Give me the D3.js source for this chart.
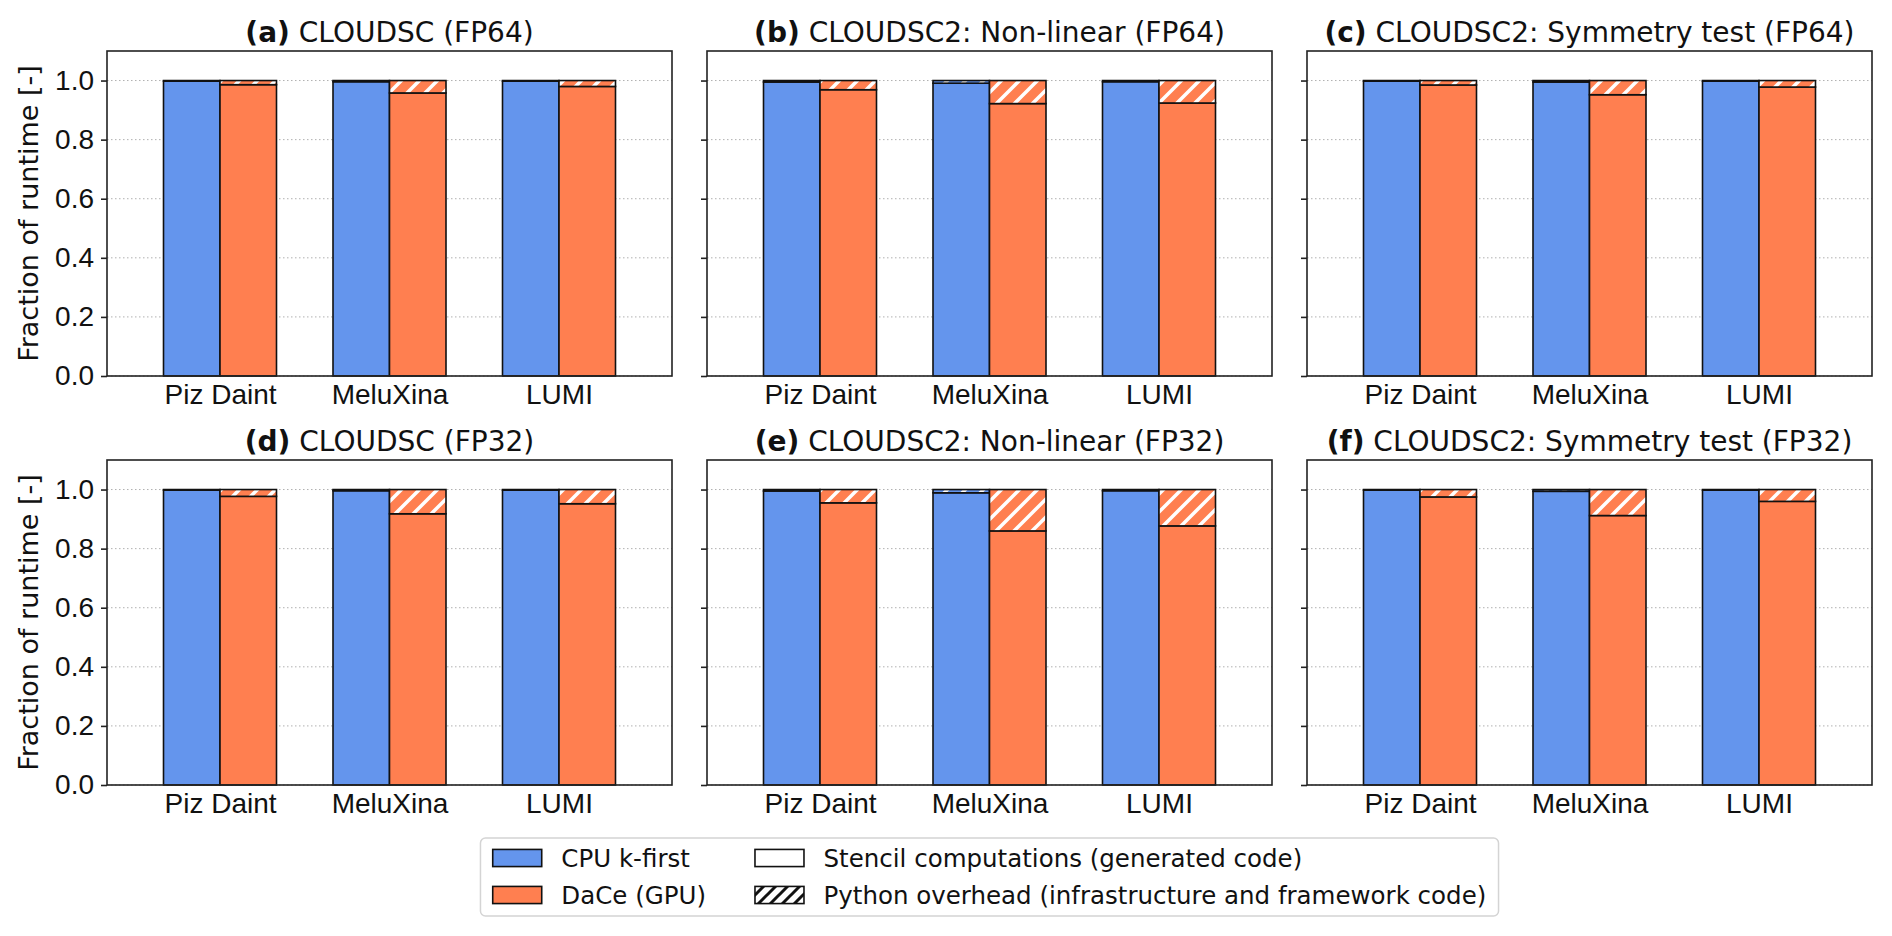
<!DOCTYPE html>
<html>
<head>
<meta charset="utf-8">
<script src="https://cdn.jsdelivr.net/npm/d3@7"></script>
<style>
  body { margin: 0; background: #fff; }
  svg { font-family: 'DejaVu Sans', sans-serif; }
  .grid line { stroke: #b0b0b0; stroke-width: 1; stroke-dasharray: 1.5, 2.5; }
  .bar { stroke: #111; stroke-width: 1.6; }
  .spine { fill: none; stroke: #222; stroke-width: 1.6; }
  .tick line { stroke: #222; stroke-width: 1.6; }
  .tick text { font-size: 28px; fill: #111; }
</style>
</head>
<body>
<svg id="chart" width="1892" height="936"></svg>
<script>
const systems = ['Piz Daint', 'MeluXina', 'LUMI'];
const panelLetters = ['(a)', '(b)', '(c)', '(d)', '(e)', '(f)'];
const panelNames = [
  'CLOUDSC (FP64)',
  'CLOUDSC2: Non-linear (FP64)',
  'CLOUDSC2: Symmetry test (FP64)',
  'CLOUDSC (FP32)',
  'CLOUDSC2: Non-linear (FP32)',
  'CLOUDSC2: Symmetry test (FP32)',
];

// fraction of runtime per panel, per system (Piz Daint, MeluXina, LUMI)
const cpuStencil = [
  [0.998, 0.996, 0.998],
  [0.995, 0.991, 0.996],
  [0.998, 0.995, 0.998],
  [0.998, 0.996, 0.998],
  [0.995, 0.989, 0.996],
  [0.998, 0.994, 0.998],
];
const cpuOverhead = [
  [0.002, 0.004, 0.002],
  [0.005, 0.009, 0.004],
  [0.002, 0.005, 0.002],
  [0.002, 0.004, 0.002],
  [0.005, 0.011, 0.004],
  [0.002, 0.006, 0.002],
];
const daceStencil = [
  [0.986, 0.958, 0.980],
  [0.969, 0.922, 0.924],
  [0.985, 0.952, 0.978],
  [0.977, 0.918, 0.952],
  [0.955, 0.860, 0.877],
  [0.975, 0.912, 0.960],
];
const daceOverhead = [
  [0.014, 0.042, 0.020],
  [0.031, 0.078, 0.076],
  [0.015, 0.048, 0.022],
  [0.023, 0.082, 0.048],
  [0.045, 0.140, 0.123],
  [0.025, 0.088, 0.040],
];

const yTicks = [0, 0.2, 0.4, 0.6, 0.8, 1.0];
const backends = ['CPU k-first', 'DaCe (GPU)'];
const backendColors = ['#6495ed', '#ff7f50'];
const partLabels = ['Stencil computations (generated code)', 'Python overhead (infrastructure and framework code)'];

const panelW = 565;
const panelH = 325;
const colLeft = [107, 707, 1307];
const rowTop = [51, 460];

const svg = d3.select('#chart');

const defs = svg.append('defs');
function hatch(id, size, bg, fg, width) {
  const p = defs.append('pattern')
    .attr('id', id)
    .attr('patternUnits', 'userSpaceOnUse')
    .attr('width', size)
    .attr('height', size)
  ;
  if (bg)
    p.append('rect').attr('width', size).attr('height', size).attr('fill', bg);
  p.append('path')
    .attr('d', `M0,${size} L${size},0 M${-size / 4},${size / 4} L${size / 4},${-size / 4} M${size * 3 / 4},${size * 5 / 4} L${size * 5 / 4},${size * 3 / 4}`)
    .attr('stroke', fg)
    .attr('stroke-width', width)
  ;
}
hatch('hatch-0', 18, backendColors[0], '#fff', 3.5);
hatch('hatch-1', 18, backendColors[1], '#fff', 3.5);
hatch('hatch-legend', 12, '#fff', '#111', 3);

const x = d3.scaleLinear().domain([-2 / 3, 8 / 3]).range([0, panelW]);
const y = d3.scaleLinear().domain([0, 1.1]).range([panelH, 0]);
const barW = 1 / 3;

panelNames.forEach((name, p) => {
  const col = p % 3;
  const row = Math.floor(p / 3);
  const g = svg.append('g')
    .attr('class', 'panel')
    .attr('transform', `translate(${colLeft[col]}, ${rowTop[row]})`)
  ;

  g.append('g')
    .attr('class', 'grid')
    .selectAll('line')
    .data(yTicks)
    .enter()
    .append('line')
    .attr('x1', 0)
    .attr('x2', panelW)
    .attr('y1', d => y(d))
    .attr('y2', d => y(d))
  ;

  const bars = [];
  systems.forEach((s, i) => {
    [[cpuStencil, cpuOverhead], [daceStencil, daceOverhead]].forEach(([st, ov], b) => {
      const x0 = b === 0 ? i - barW : i;
      bars.push({ x0, lo: 0, hi: st[p][i], fill: backendColors[b] });
      bars.push({ x0, lo: st[p][i], hi: st[p][i] + ov[p][i], fill: `url(#hatch-${b})` });
    });
  });

  g.append('g')
    .selectAll('rect')
    .data(bars)
    .enter()
    .append('rect')
    .attr('class', 'bar')
    .attr('x', d => x(d.x0))
    .attr('width', x(barW) - x(0))
    .attr('y', d => y(d.hi))
    .attr('height', d => y(d.lo) - y(d.hi))
    .attr('fill', d => d.fill)
  ;

  g.append('g')
    .call(d3.axisLeft(y)
      .tickValues(yTicks)
      .tickSize(6)
      .tickPadding(7)
      .tickFormat(col === 0 ? d3.format('.1f') : () => ''))
    .call(a => a.select('.domain').remove())
    .call(a => a.selectAll('text').attr('font-family', null).attr('font-size', null))
  ;

  g.append('g')
    .attr('transform', `translate(0, ${panelH})`)
    .call(d3.axisBottom(x)
      .tickValues([0, 1, 2])
      .tickSize(0)
      .tickPadding(8)
      .tickFormat(i => systems[i]))
    .call(a => a.select('.domain').remove())
    .call(a => a.selectAll('text').attr('font-family', null).attr('font-size', null))
  ;

  g.append('rect')
    .attr('class', 'spine')
    .attr('width', panelW)
    .attr('height', panelH)
  ;

  const title = g.append('text')
    .attr('x', panelW / 2)
    .attr('y', -9)
    .style('text-anchor', 'middle')
    .style('font-size', '28px')
    .attr('fill', '#111')
  ;
  title.append('tspan').style('font-weight', 'bold').text(panelLetters[p]);
  title.append('tspan').text(' ' + name);

  if (col === 0) {
    g.append('text')
      .attr('transform', `translate(-69, ${panelH / 2}) rotate(-90)`)
      .style('text-anchor', 'middle')
      .style('font-size', '27px')
      .attr('fill', '#111')
      .text('Fraction of runtime [-]')
    ;
  }
});

// legend, centred under the axes area
const fs = 24.5;
const legend = svg.append('g').attr('class', 'legend');
const legendBox = legend.append('rect')
  .attr('rx', 5)
  .attr('ry', 5)
  .attr('fill', '#fff')
  .attr('stroke', '#d4d4d4')
  .attr('stroke-width', 1.5)
;
const entries = [
  { col: 0, row: 0, fill: backendColors[0], label: backends[0] },
  { col: 0, row: 1, fill: backendColors[1], label: backends[1] },
  { col: 1, row: 0, fill: '#fff', label: partLabels[0] },
  { col: 1, row: 1, fill: 'url(#hatch-legend)', label: partLabels[1] },
];
const handleW = 2 * fs;
const handleH = 0.7 * fs;
const textOff = handleW + 0.8 * fs;
const rowY = [20, 57];
const entry = legend.selectAll('g.entry')
  .data(entries)
  .enter()
  .append('g')
  .attr('class', 'entry')
;
entry.append('rect')
  .attr('y', -handleH / 2)
  .attr('width', handleW)
  .attr('height', handleH)
  .attr('fill', d => d.fill)
  .attr('stroke', '#111')
  .attr('stroke-width', 1.6)
;
entry.append('text')
  .attr('x', textOff)
  .attr('dy', '0.35em')
  .style('font-size', `${fs}px`)
  .attr('fill', '#111')
  .text(d => d.label)
;
const colWidth = [0, 0];
entry.selectAll('text').each(function (d) {
  colWidth[d.col] = Math.max(colWidth[d.col], textOff + this.getComputedTextLength());
});
const colOffset = [0.5 * fs, 0.5 * fs + colWidth[0] + 2 * fs];
entry.attr('transform', d => `translate(${colOffset[d.col]}, ${rowY[d.row]})`);
const legendW = colOffset[1] + colWidth[1] + 0.5 * fs;
const legendH = 78;
legendBox.attr('width', legendW).attr('height', legendH);
const axesCenter = (colLeft[0] + colLeft[2] + panelW) / 2;
legend.attr('transform', `translate(${axesCenter - legendW / 2}, 838)`);
</script>
</body>
</html>
